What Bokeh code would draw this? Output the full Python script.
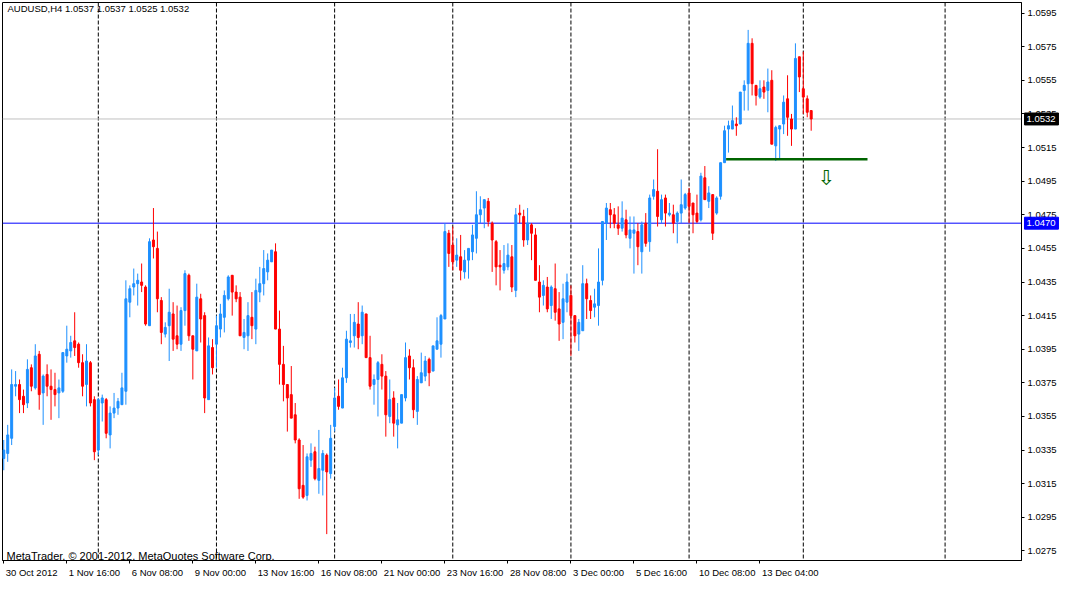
from bokeh.plotting import figure
from bokeh.models import ColumnDataSource, Range1d, FixedTicker, Span, Label, NumeralTickFormatter
from bokeh.core.properties import value
from bokeh.embed import file_html
from bokeh.resources import INLINE

# ---------------- data (AUDUSD H4) ----------------
open_ = [1.0330,1.0333,1.0342,1.0373,1.0374,1.0367,1.0363,1.0384,1.0372,1.0392,
         1.0369,1.0380,1.0373,1.0371,1.0369,1.0370,1.0391,1.0394,1.0400,1.0398,
         1.0387,1.0374,1.0387,1.0365,1.0335,1.0363,1.0365,1.0344,1.0357,1.0360,
         1.0362,1.0370,1.0423,1.0432,1.0434,1.0435,1.0432,1.0409,1.0460,1.0455,
         1.0424,1.0404,1.0409,1.0416,1.0403,1.0398,1.0418,1.0439,1.0403,1.0394,
         1.0425,1.0415,1.0365,1.0396,1.0398,1.0407,1.0414,1.0425,1.0439,1.0429,
         1.0426,1.0402,1.0403,1.0414,1.0407,1.0429,1.0434,1.0441,1.0447,1.0453,
         1.0407,1.0386,1.0374,1.0368,1.0356,1.0341,1.0314,1.0308,1.0329,1.0334,
         1.0317,1.0323,1.0332,1.0321,1.0349,1.0367,1.0360,1.0378,1.0399,1.0403,
         1.0410,1.0403,1.0416,1.0390,1.0374,1.0377,1.0386,1.0379,1.0355,1.0366,
         1.0350,1.0351,1.0366,1.0391,1.0384,1.0358,1.0375,1.0379,1.0389,1.0382,
         1.0395,1.0398,1.0413,1.0464,1.0457,1.0448,1.0450,1.0441,1.0448,1.0453,
         1.0461,1.0475,1.0479,1.0483,1.0470,1.0459,1.0445,1.0442,1.0444,1.0450,
         1.0430,1.0476,1.0474,1.0460,1.0469,1.0463,1.0435,1.0427,1.0432,1.0421,
         1.0431,1.0419,1.0411,1.0423,1.0427,1.0415,1.0404,1.0406,1.0434,1.0424,
         1.0420,1.0421,1.0436,1.0470,1.0478,1.0475,1.0469,1.0467,1.0472,1.0461,
         1.0464,1.0465,1.0453,1.0470,1.0459,1.0486,1.0489,1.0472,1.0485,1.0475,
         1.0475,1.0471,1.0476,1.0479,1.0488,1.0482,1.0476,1.0472,1.0497,1.0483,
         1.0487,1.0476,1.0486,1.0506,1.0526,1.0526,1.0529,1.0529,1.0549,1.0553,
         1.0577,1.0552,1.0545,1.0551,1.0549,1.0555,1.0516,1.0526,1.0529,1.0544,
         1.0532,1.0526,1.0569,1.0550,1.0544,1.0537]
high = [1.0341,1.0350,1.0383,1.0382,1.0377,1.0371,1.0389,1.0386,1.0398,1.0394,
        1.0380,1.0386,1.0383,1.0381,1.0377,1.0393,1.0409,1.0403,1.0417,1.0399,
        1.0392,1.0398,1.0388,1.0367,1.0366,1.0368,1.0366,1.0361,1.0369,1.0366,
        1.0381,1.0436,1.0433,1.0443,1.0440,1.0446,1.0433,1.0461,1.0479,1.0465,
        1.0426,1.0411,1.0431,1.0423,1.0421,1.0420,1.0442,1.0440,1.0403,1.0434,
        1.0428,1.0417,1.0402,1.0401,1.0415,1.0422,1.0430,1.0439,1.0439,1.0433,
        1.0429,1.0413,1.0423,1.0429,1.0437,1.0444,1.0454,1.0452,1.0454,1.0458,
        1.0418,1.0397,1.0374,1.0385,1.0363,1.0342,1.0338,1.0333,1.0339,1.0337,
        1.0347,1.0335,1.0333,1.0350,1.0372,1.0377,1.0384,1.0406,1.0416,1.0416,
        1.0423,1.0421,1.0416,1.0403,1.0380,1.0388,1.0392,1.0382,1.0377,1.0370,
        1.0363,1.0368,1.0399,1.0395,1.0389,1.0379,1.0393,1.0391,1.0390,1.0397,
        1.0414,1.0416,1.0470,1.0466,1.0468,1.0461,1.0463,1.0454,1.0455,1.0469,
        1.0489,1.0486,1.0484,1.0485,1.0471,1.0460,1.0454,1.0457,1.0458,1.0457,
        1.0479,1.0481,1.0478,1.0479,1.0470,1.0467,1.0445,1.0436,1.0438,1.0433,
        1.0446,1.0429,1.0434,1.0440,1.0433,1.0415,1.0413,1.0445,1.0437,1.0427,
        1.0431,1.0455,1.0471,1.0482,1.0482,1.0479,1.0480,1.0483,1.0478,1.0474,
        1.0474,1.0470,1.0471,1.0476,1.0487,1.0496,1.0514,1.0487,1.0487,1.0482,
        1.0481,1.0477,1.0496,1.0488,1.0491,1.0482,1.0487,1.0500,1.0504,1.0492,
        1.0487,1.0486,1.0506,1.0528,1.0531,1.0540,1.0533,1.0548,1.0555,1.0585,
        1.0580,1.0552,1.0555,1.0555,1.0562,1.0561,1.0528,1.0528,1.0546,1.0558,
        1.0535,1.0577,1.0569,1.0572,1.0546,1.0537]
low = [1.0323,1.0328,1.0338,1.0367,1.0357,1.0357,1.0360,1.0370,1.0371,1.0359,
       1.0350,1.0367,1.0353,1.0361,1.0354,1.0369,1.0387,1.0390,1.0391,1.0384,
       1.0367,1.0361,1.0361,1.0329,1.0332,1.0352,1.0342,1.0336,1.0354,1.0356,
       1.0362,1.0362,1.0414,1.0427,1.0421,1.0429,1.0409,1.0409,1.0449,1.0417,
       1.0398,1.0402,1.0388,1.0394,1.0395,1.0394,1.0409,1.0400,1.0377,1.0394,
       1.0399,1.0357,1.0365,1.0380,1.0384,1.0402,1.0405,1.0424,1.0415,1.0423,
       1.0403,1.0395,1.0394,1.0401,1.0398,1.0423,1.0427,1.0436,1.0447,1.0407,
       1.0374,1.0364,1.0346,1.0354,1.0339,1.0306,1.0306,1.0305,1.0325,1.0317,
       1.0309,1.0308,1.0285,1.0318,1.0346,1.0359,1.0360,1.0375,1.0396,1.0396,
       1.0395,1.0398,1.0390,1.0371,1.0362,1.0355,1.0371,1.0343,1.0351,1.0343,
       1.0336,1.0351,1.0364,1.0377,1.0354,1.0350,1.0375,1.0376,1.0373,1.0382,
       1.0395,1.0390,1.0413,1.0444,1.0442,1.0444,1.0436,1.0437,1.0437,1.0448,
       1.0452,1.0470,1.0467,1.0468,1.0441,1.0433,1.0430,1.0440,1.0442,1.0429,
       1.0426,1.0470,1.0456,1.0457,1.0448,1.0436,1.0417,1.0421,1.0417,1.0413,
       1.0412,1.0400,1.0401,1.0417,1.0391,1.0399,1.0394,1.0406,1.0413,1.0413,
       1.0414,1.0409,1.0433,1.0460,1.0467,1.0467,1.0463,1.0465,1.0461,1.0455,
       1.0440,1.0445,1.0440,1.0456,1.0453,1.0484,1.0468,1.0470,1.0468,1.0474,
       1.0464,1.0458,1.0470,1.0478,1.0470,1.0464,1.0470,1.0471,1.0484,1.0479,
       1.0460,1.0475,1.0484,1.0506,1.0512,1.0526,1.0522,1.0529,1.0537,1.0537,
       1.0546,1.0540,1.0544,1.0544,1.0536,1.0517,1.0507,1.0508,1.0523,1.0522,
       1.0516,1.0526,1.0548,1.0535,1.0533,1.0525]
close = [1.0335,1.0344,1.0374,1.0374,1.0365,1.0362,1.0383,1.0373,1.0391,1.0368,
         1.0379,1.0373,1.0371,1.0368,1.0372,1.0393,1.0395,1.0399,1.0396,1.0387,
         1.0373,1.0388,1.0363,1.0334,1.0365,1.0366,1.0345,1.0357,1.0360,1.0364,
         1.0372,1.0425,1.0431,1.0434,1.0436,1.0433,1.0410,1.0459,1.0456,1.0425,
         1.0405,1.0408,1.0417,1.0401,1.0398,1.0418,1.0440,1.0403,1.0395,1.0426,
         1.0413,1.0366,1.0397,1.0384,1.0409,1.0416,1.0427,1.0438,1.0429,1.0425,
         1.0403,1.0405,1.0415,1.0409,1.0430,1.0434,1.0443,1.0448,1.0454,1.0407,
         1.0386,1.0374,1.0366,1.0354,1.0341,1.0312,1.0307,1.0331,1.0333,1.0318,
         1.0324,1.0333,1.0322,1.0342,1.0366,1.0361,1.0378,1.0401,1.0400,1.0411,
         1.0402,1.0417,1.0390,1.0373,1.0377,1.0387,1.0379,1.0356,1.0365,1.0351,
         1.0353,1.0368,1.0390,1.0384,1.0359,1.0377,1.0381,1.0388,1.0381,1.0397,
         1.0400,1.0415,1.0465,1.0452,1.0447,1.0451,1.0442,1.0448,1.0455,1.0463,
         1.0475,1.0478,1.0484,1.0471,1.0460,1.0444,1.0444,1.0446,1.0451,1.0432,
         1.0475,1.0475,1.0460,1.0470,1.0464,1.0436,1.0426,1.0433,1.0419,1.0432,
         1.0417,1.0410,1.0425,1.0435,1.0415,1.0403,1.0411,1.0434,1.0425,1.0418,
         1.0422,1.0435,1.0471,1.0479,1.0475,1.0470,1.0467,1.0473,1.0463,1.0466,
         1.0466,1.0456,1.0469,1.0458,1.0485,1.0490,1.0474,1.0484,1.0476,1.0476,
         1.0470,1.0476,1.0481,1.0487,1.0480,1.0475,1.0471,1.0498,1.0484,1.0488,
         1.0464,1.0485,1.0506,1.0525,1.0528,1.0531,1.0528,1.0548,1.0552,1.0577,
         1.0553,1.0546,1.0550,1.0548,1.0554,1.0517,1.0527,1.0528,1.0542,1.0533,
         1.0526,1.0568,1.0557,1.0545,1.0536,1.0532]

time_tick_idx = [0, 16, 32, 48, 64, 80, 96, 112, 128, 144, 160, 176, 192]
time_tick_labels = ["30 Oct 2012", "1 Nov 16:00", "6 Nov 08:00", "9 Nov 00:00",
                    "13 Nov 16:00", "16 Nov 08:00", "21 Nov 00:00", "23 Nov 16:00",
                    "28 Nov 08:00", "3 Dec 00:00", "5 Dec 16:00", "10 Dec 08:00",
                    "13 Dec 04:00"]
separator_idx = [24, 54, 84, 114, 144, 174, 203, 239]
price_ticks = [1.0275, 1.0295, 1.0315, 1.0335, 1.0355, 1.0375, 1.0395, 1.0415, 1.0435,
               1.0455, 1.0475, 1.0495, 1.0515, 1.0535, 1.0555, 1.0575, 1.0595]
price_tick_labels = ["1.0275", "1.0295", "1.0315", "1.0335", "1.0355", "1.0375", "1.0395",
                     "1.0415", "1.0435", "1.0455", "1.0475", "1.0495", "1.0515", "1.0535",
                     "1.0555", "1.0575", "1.0595"]
marker_prices = [1.0532, 1.0470]
marker_labels = ["1.0532", "1.0470"]
marker_colors = ["#000000", "#0000FF"]
marker_line_colors = ["#C0C0C0", "#0000FF"]
support_x0, support_x1, support_price = 183.4, 219.3, 1.0508
arrow_idx, arrow_price = 208.9, 1.0497
header = "AUDUSD,H4  1.0537 1.0537 1.0525 1.0532"
footer = "MetaTrader, \u00a9 2001-2012, MetaQuotes Software Corp."

# ---------------- layout ----------------
W, H = 1059, 580
BL, BR, BT, BB = 2, 37, 2, 17
FW, FH = W - BL - BR, H - BT - BB
X0, X1 = -0.325, 258.4
Y0, Y1 = 1.02693, 1.06013
PXX = FW / (X1 - X0)     # px per bar
PXY = FH / (Y1 - Y0)     # px per price unit

def cx(px):  # canvas px (from left) -> data x
    return X0 + (px - BL) / PXX

def cy(py):  # canvas px (from top) -> data y
    return Y1 - (py - BT) / PXY

FONT = "Liberation Sans"
AX_SIZE = 9.5
# Arial/Liberation advance widths (per em) for the label characters
CW = {d: 0.556 for d in "0123456789"}
CW.update({" ": 0.278, ":": 0.278, "O": 0.778, "c": 0.5, "t": 0.278, "N": 0.722,
           "o": 0.556, "v": 0.5, "D": 0.722, "e": 0.556})

def text_w(s, size):
    return sum(CW.get(ch, 0.556) for ch in s) * size

BULL, BEAR = "#1E90FF", "#FF0000"

idx = list(range(len(close)))
colors = [BULL if c >= o else BEAR for o, c in zip(open_, close)]
src = ColumnDataSource(dict(
    idx=idx, open=open_, high=high, low=low, close=close,
    top=[max(o, c) for o, c in zip(open_, close)],
    bottom=[min(o, c) for o, c in zip(open_, close)],
    color=colors))

p = figure(width=W, height=H, output_backend="svg", toolbar_location=None,
           x_range=Range1d(X0, X1), y_range=Range1d(Y0, Y1),
           y_axis_location="right",
           min_border_left=BL, min_border_right=BR, min_border_top=BT, min_border_bottom=BB)
p.grid.visible = False
p.outline_line_color = "black"
p.outline_line_alpha = 1.0
p.background_fill_color = "white"
p.border_fill_color = "white"

# price axis
p.yaxis.ticker = FixedTicker(ticks=price_ticks)
p.yaxis.formatter = NumeralTickFormatter(format="0.0000")
p.yaxis.major_label_overrides = {t: s for t, s in zip(price_ticks, price_tick_labels)}
p.yaxis.major_tick_in = 0
p.yaxis.major_tick_out = 3
p.yaxis.minor_tick_in = 0
p.yaxis.minor_tick_out = 0
p.yaxis.axis_line_color = "black"
p.yaxis.major_tick_line_color = "black"
p.yaxis.major_label_standoff = 3
p.yaxis.major_label_text_font = FONT
p.yaxis.major_label_text_font_size = f"{AX_SIZE}px"
p.yaxis.major_label_text_color = "black"

# time axis: tick marks (minor) at the bars, labels centred so they start 2px right of the mark
label_centres = [round(t + (2 + text_w(s, AX_SIZE) / 2) / PXX, 3)
                 for t, s in zip(time_tick_idx, time_tick_labels)]
p.xaxis.ticker = FixedTicker(ticks=label_centres, minor_ticks=time_tick_idx)
p.xaxis.major_label_overrides = {c: s for c, s in zip(label_centres, time_tick_labels)}
p.xaxis.major_tick_in = 0
p.xaxis.major_tick_out = 0
p.xaxis.minor_tick_in = 0
p.xaxis.minor_tick_out = 3
p.xaxis.minor_tick_line_color = "black"
p.xaxis.major_label_standoff = 3
p.xaxis.major_label_text_font = FONT
p.xaxis.major_label_text_font_size = f"{AX_SIZE}px"
p.xaxis.major_label_text_color = "black"
p.xaxis.axis_line_color = "black"

# separators and horizontal levels
for s in separator_idx:
    p.add_layout(Span(location=s, dimension="height", line_color="black",
                      line_dash="4 2", line_width=1, level="underlay"))
for pr, col in zip(marker_prices, marker_line_colors):
    p.add_layout(Span(location=pr, dimension="width", line_color=col,
                      line_width=1, level="underlay"))

# candles
p.segment(x0="idx", y0="low", x1="idx", y1="high", line_color="color", line_width=1, source=src)
p.vbar(x="idx", width=0.5, top="top", bottom="bottom", fill_color="color",
       line_color="color", line_width=1, source=src)

# support line and arrow
p.segment(x0=[support_x0], y0=[support_price], x1=[support_x1], y1=[support_price],
          line_color="#006400", line_width=2.5)
p.text(x=[arrow_idx], y=[arrow_price], text=["\u21e9"], text_color="#006400",
       text_font=value("DejaVu Sans"), text_font_size="21px",
       text_align="center", text_baseline="middle")

# texts inside the chart
p.add_layout(Label(x=cx(7), y=cy(3), text=header, text_font=FONT, text_font_size="9.5px",
                   text_color="black", text_baseline="top", text_align="left"))
p.add_layout(Label(x=cx(6), y=cy(558), text=footer, text_font=FONT, text_font_size="11px",
                   text_color="black", text_baseline="alphabetic", text_align="left"))

# price boxes on the price axis (drawn above the frame clip)
box_src = ColumnDataSource(dict(
    x=[cx(BL + FW + 3 + 17)] * len(marker_prices), y=marker_prices,
    text=marker_labels, color=marker_colors,
    tx=[cx(BL + FW + 5)] * len(marker_prices)))
p.rect(x="x", y="y", width=34 / PXX, height=12 / PXY, fill_color="color",
       line_color="color", source=box_src, level="overlay")
p.text(x="tx", y="y", text="text", text_color="white", text_font=value(FONT),
       text_font_size=f"{AX_SIZE}px", text_align="left", text_baseline="middle",
       source=box_src, level="overlay")

open("out.html", "w").write(file_html(p, INLINE))
